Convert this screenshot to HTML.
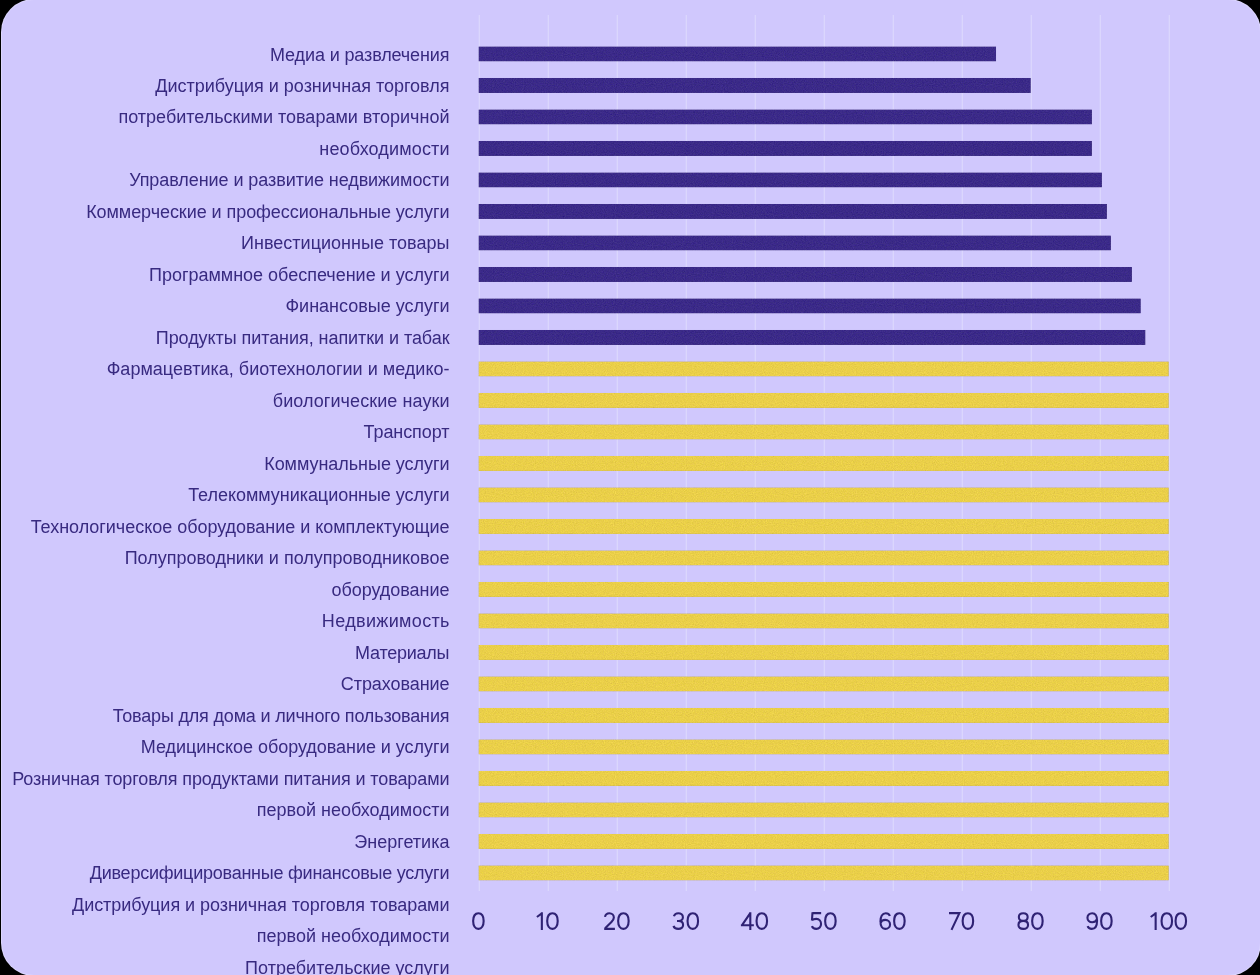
<!DOCTYPE html>
<html><head><meta charset="utf-8">
<style>
html,body{margin:0;padding:0;width:1260px;height:975px;overflow:hidden;background:#000;}
.halo{position:absolute;left:1px;top:-1px;width:1260px;height:977px;background:#dcd6fe;border-radius:33px;}
.card{position:absolute;left:2px;top:0;width:1258px;height:975px;background:#d0c8fd;border-radius:32px;}
svg{position:absolute;left:0;top:0;}
.l{position:absolute;right:0;white-space:nowrap;font-family:"Liberation Sans",sans-serif;font-size:18px;line-height:20px;color:#382a80;}
.ax{position:absolute;width:60px;text-align:center;font-family:"Liberation Sans",sans-serif;font-size:25px;letter-spacing:-0.6px;line-height:30px;color:#2f2274;}
</style></head><body>
<div class="halo"></div><div class="card"></div>
<svg width="1260" height="975" viewBox="0 0 1260 975">

<rect x="478.65" y="15" width="1.35" height="876" fill="#dbd6fd"/>
<rect x="547.65" y="15" width="1.35" height="876" fill="#dbd6fd"/>
<rect x="616.65" y="15" width="1.35" height="876" fill="#dbd6fd"/>
<rect x="685.65" y="15" width="1.35" height="876" fill="#dbd6fd"/>
<rect x="754.65" y="15" width="1.35" height="876" fill="#dbd6fd"/>
<rect x="823.65" y="15" width="1.35" height="876" fill="#dbd6fd"/>
<rect x="892.65" y="15" width="1.35" height="876" fill="#dbd6fd"/>
<rect x="961.65" y="15" width="1.35" height="876" fill="#dbd6fd"/>
<rect x="1030.65" y="15" width="1.35" height="876" fill="#dbd6fd"/>
<rect x="1099.65" y="15" width="1.35" height="876" fill="#dbd6fd"/>
<rect x="1168.65" y="15" width="1.35" height="876" fill="#dbd6fd"/>
<filter id="gr" x="0" y="0" width="100%" height="100%" color-interpolation-filters="sRGB"><feTurbulence type="fractalNoise" baseFrequency="0.9" numOctaves="2" seed="7"/><feColorMatrix type="matrix" values="0.6 0.4 0 0 0 0.4 0.6 0 0 0 0.6 0 0.4 0 0 0 0 0 0 1" result="t"/><feComposite in="SourceGraphic" in2="t" operator="arithmetic" k1="0" k2="1" k3="0.18" k4="-0.09" result="a"/><feComposite in="a" in2="SourceGraphic" operator="in"/></filter>
<g filter="url(#gr)">
<rect x="478.5" y="46.45" width="517.60" height="15.0" fill="#3b2a88"/>
<rect x="478.5" y="77.95" width="552.30" height="15.0" fill="#3b2a88"/>
<rect x="478.5" y="109.45" width="613.40" height="15.0" fill="#3b2a88"/>
<rect x="478.5" y="140.95" width="613.40" height="15.0" fill="#3b2a88"/>
<rect x="478.5" y="172.45" width="623.40" height="15.0" fill="#3b2a88"/>
<rect x="478.5" y="203.95" width="628.40" height="15.0" fill="#3b2a88"/>
<rect x="478.5" y="235.45" width="632.40" height="15.0" fill="#3b2a88"/>
<rect x="478.5" y="266.95" width="653.40" height="15.0" fill="#3b2a88"/>
<rect x="478.5" y="298.45" width="662.30" height="15.0" fill="#3b2a88"/>
<rect x="478.5" y="329.95" width="667.00" height="15.0" fill="#3b2a88"/>
<rect x="478.5" y="361.45" width="690.30" height="15.0" fill="#eacf49"/>
<rect x="478.5" y="392.95" width="690.30" height="15.0" fill="#eacf49"/>
<rect x="478.5" y="424.45" width="690.30" height="15.0" fill="#eacf49"/>
<rect x="478.5" y="455.95" width="690.30" height="15.0" fill="#eacf49"/>
<rect x="478.5" y="487.45" width="690.30" height="15.0" fill="#eacf49"/>
<rect x="478.5" y="518.95" width="690.30" height="15.0" fill="#eacf49"/>
<rect x="478.5" y="550.45" width="690.30" height="15.0" fill="#eacf49"/>
<rect x="478.5" y="581.95" width="690.30" height="15.0" fill="#eacf49"/>
<rect x="478.5" y="613.45" width="690.30" height="15.0" fill="#eacf49"/>
<rect x="478.5" y="644.95" width="690.30" height="15.0" fill="#eacf49"/>
<rect x="478.5" y="676.45" width="690.30" height="15.0" fill="#eacf49"/>
<rect x="478.5" y="707.95" width="690.30" height="15.0" fill="#eacf49"/>
<rect x="478.5" y="739.45" width="690.30" height="15.0" fill="#eacf49"/>
<rect x="478.5" y="770.95" width="690.30" height="15.0" fill="#eacf49"/>
<rect x="478.5" y="802.45" width="690.30" height="15.0" fill="#eacf49"/>
<rect x="478.5" y="833.95" width="690.30" height="15.0" fill="#eacf49"/>
<rect x="478.5" y="865.45" width="690.30" height="15.0" fill="#eacf49"/>
</g></svg>
<div style="position:absolute;left:0;top:0;width:449.5px;height:975px;will-change:transform;">
<div class="l" style="top:44.50px;letter-spacing:-0.122px;right:0.122px;">Медиа и развлечения</div>
<div class="l" style="top:75.99px;letter-spacing:-0.006px;right:0.006px;">Дистрибуция и розничная торговля</div>
<div class="l" style="top:107.48px;">потребительскими товарами вторичной</div>
<div class="l" style="top:138.97px;letter-spacing:0.150px;right:-0.150px;">необходимости</div>
<div class="l" style="top:170.46px;letter-spacing:-0.067px;right:0.067px;">Управление и развитие недвижимости</div>
<div class="l" style="top:201.95px;letter-spacing:-0.059px;right:0.059px;">Коммерческие и профессиональные услуги</div>
<div class="l" style="top:233.44px;letter-spacing:0.020px;right:-0.020px;">Инвестиционные товары</div>
<div class="l" style="top:264.93px;letter-spacing:-0.013px;right:0.013px;">Программное обеспечение и услуги</div>
<div class="l" style="top:296.42px;letter-spacing:-0.013px;right:0.013px;">Финансовые услуги</div>
<div class="l" style="top:327.91px;letter-spacing:-0.062px;right:0.062px;">Продукты питания, напитки и табак</div>
<div class="l" style="top:359.40px;letter-spacing:0.017px;right:-0.017px;">Фармацевтика, биотехнологии и медико-</div>
<div class="l" style="top:390.89px;letter-spacing:0.078px;right:-0.078px;">биологические науки</div>
<div class="l" style="top:422.38px;letter-spacing:-0.075px;right:0.075px;">Транспорт</div>
<div class="l" style="top:453.87px;letter-spacing:-0.044px;right:0.044px;">Коммунальные услуги</div>
<div class="l" style="top:485.36px;letter-spacing:-0.038px;right:0.038px;">Телекоммуникационные услуги</div>
<div class="l" style="top:516.85px;letter-spacing:-0.028px;right:0.028px;">Технологическое оборудование и комплектующие</div>
<div class="l" style="top:548.34px;">Полупроводники и полупроводниковое</div>
<div class="l" style="top:579.83px;letter-spacing:-0.036px;right:0.036px;">оборудование</div>
<div class="l" style="top:611.32px;letter-spacing:0.345px;right:-0.345px;">Недвижимость</div>
<div class="l" style="top:642.81px;letter-spacing:-0.250px;right:0.250px;">Материалы</div>
<div class="l" style="top:674.30px;letter-spacing:-0.080px;right:0.080px;">Страхование</div>
<div class="l" style="top:705.79px;letter-spacing:-0.178px;right:0.178px;">Товары для дома и личного пользования</div>
<div class="l" style="top:737.28px;letter-spacing:-0.044px;right:0.044px;">Медицинское оборудование и услуги</div>
<div class="l" style="top:768.77px;letter-spacing:-0.098px;right:0.098px;">Розничная торговля продуктами питания и товарами</div>
<div class="l" style="top:800.26px;letter-spacing:0.011px;right:-0.011px;">первой необходимости</div>
<div class="l" style="top:831.75px;letter-spacing:0.022px;right:-0.022px;">Энергетика</div>
<div class="l" style="top:863.24px;letter-spacing:-0.244px;right:0.244px;">Диверсифицированные финансовые услуги</div>
<div class="l" style="top:894.73px;letter-spacing:-0.045px;right:0.045px;">Дистрибуция и розничная торговля товарами</div>
<div class="l" style="top:926.22px;letter-spacing:0.011px;right:-0.011px;">первой необходимости</div>
<div class="l" style="top:957.71px;letter-spacing:0.010px;right:-0.010px;">Потребительские услуги</div>
</div>
<svg width="1260" height="975" viewBox="0 0 1260 975"><g fill="none" stroke="#2f2274" stroke-width="2.1" stroke-linecap="butt" stroke-linejoin="miter">
<path transform="translate(472.10 929.9)" d="M6.30 -16.65C9.55 -16.65 11.55 -13.69 11.55 -8.85C11.55 -4.01 9.55 -1.05 6.30 -1.05C3.04 -1.05 1.05 -4.01 1.05 -8.85C1.05 -13.69 3.04 -16.65 6.30 -16.65Z"/>
<path transform="translate(536.00 929.9)" d="M5.85 0L5.85 -17.7M0.9 -12.9L5.85 -16.5"/>
<path transform="translate(546.15 929.9)" d="M6.30 -16.65C9.55 -16.65 11.55 -13.69 11.55 -8.85C11.55 -4.01 9.55 -1.05 6.30 -1.05C3.04 -1.05 1.05 -4.01 1.05 -8.85C1.05 -13.69 3.04 -16.65 6.30 -16.65Z"/>
<path transform="translate(603.85 929.9)" d="M1.15 -13.0C1.6 -15.4 3.3 -16.65 5.5 -16.65C8.2 -16.65 10.0 -14.8 10.0 -12.4C10.0 -10.6 9.1 -9.3 7.6 -7.8L1.3 -1.6M0.35 -1.05L11.05 -1.05"/>
<path transform="translate(617.10 929.9)" d="M6.30 -16.65C9.55 -16.65 11.55 -13.69 11.55 -8.85C11.55 -4.01 9.55 -1.05 6.30 -1.05C3.04 -1.05 1.05 -4.01 1.05 -8.85C1.05 -13.69 3.04 -16.65 6.30 -16.65Z"/>
<path transform="translate(672.70 929.9)" d="M1.2 -13.6C1.8 -15.6 3.5 -16.65 5.6 -16.65C8.3 -16.65 10.2 -14.9 10.2 -12.7C10.2 -10.4 8.4 -8.9 6.0 -8.9L4.3 -8.9M6.0 -8.9C8.7 -8.9 10.4 -7.2 10.4 -4.9C10.4 -2.5 8.4 -1.05 5.6 -1.05C3.2 -1.05 1.3 -2.2 0.8 -4.0"/>
<path transform="translate(686.50 929.9)" d="M6.30 -16.65C9.55 -16.65 11.55 -13.69 11.55 -8.85C11.55 -4.01 9.55 -1.05 6.30 -1.05C3.04 -1.05 1.05 -4.01 1.05 -8.85C1.05 -13.69 3.04 -16.65 6.30 -16.65Z"/>
<path transform="translate(740.90 929.9)" d="M9.4 0L9.4 -17.7M9.7 -17.2L1.5 -5.2M0 -4.6L12.95 -4.6"/>
<path transform="translate(755.50 929.9)" d="M6.30 -16.65C9.55 -16.65 11.55 -13.69 11.55 -8.85C11.55 -4.01 9.55 -1.05 6.30 -1.05C3.04 -1.05 1.05 -4.01 1.05 -8.85C1.05 -13.69 3.04 -16.65 6.30 -16.65Z"/>
<path transform="translate(811.00 929.9)" d="M10.15 -16.75L1.5 -16.75M1.5 -17.7L0.95 -9.4M0.9 -9.6C2.0 -10.6 3.6 -11.0 5.3 -11.0C8.3 -11.0 10.05 -8.7 10.05 -5.9C10.05 -3.0 8.1 -1.05 5.3 -1.05C3.2 -1.05 1.5 -2.1 0.9 -3.8"/>
<path transform="translate(824.10 929.9)" d="M6.30 -16.65C9.55 -16.65 11.55 -13.69 11.55 -8.85C11.55 -4.01 9.55 -1.05 6.30 -1.05C3.04 -1.05 1.05 -4.01 1.05 -8.85C1.05 -13.69 3.04 -16.65 6.30 -16.65Z"/>
<path transform="translate(879.40 929.9)" d="M10.5 -13.9C9.9 -15.6 8.4 -16.65 6.3 -16.65C2.9 -16.65 1.05 -13.4 1.05 -8.5C1.05 -3.8 2.9 -1.05 5.85 -1.05C8.7 -1.05 10.65 -3.0 10.65 -5.5C10.65 -8.1 8.7 -10.0 5.9 -10.0C3.6 -10.0 1.7 -8.7 1.1 -6.8"/>
<path transform="translate(893.10 929.9)" d="M6.30 -16.65C9.55 -16.65 11.55 -13.69 11.55 -8.85C11.55 -4.01 9.55 -1.05 6.30 -1.05C3.04 -1.05 1.05 -4.01 1.05 -8.85C1.05 -13.69 3.04 -16.65 6.30 -16.65Z"/>
<path transform="translate(949.00 929.9)" d="M0 -16.75L10.4 -16.75L2.5 0"/>
<path transform="translate(961.60 929.9)" d="M6.30 -16.65C9.55 -16.65 11.55 -13.69 11.55 -8.85C11.55 -4.01 9.55 -1.05 6.30 -1.05C3.04 -1.05 1.05 -4.01 1.05 -8.85C1.05 -13.69 3.04 -16.65 6.30 -16.65Z"/>
<path transform="translate(1017.40 929.9)" d="M5.85 -16.70C8.58 -16.70 10.25 -15.22 10.25 -12.80C10.25 -10.38 8.58 -8.90 5.85 -8.90C3.12 -8.90 1.45 -10.38 1.45 -12.80C1.45 -15.22 3.12 -16.70 5.85 -16.70ZM5.85 -9.00C8.83 -9.00 10.65 -7.48 10.65 -5.00C10.65 -2.52 8.83 -1.00 5.85 -1.00C2.87 -1.00 1.05 -2.52 1.05 -5.00C1.05 -7.48 2.87 -9.00 5.85 -9.00Z"/>
<path transform="translate(1031.10 929.9)" d="M6.30 -16.65C9.55 -16.65 11.55 -13.69 11.55 -8.85C11.55 -4.01 9.55 -1.05 6.30 -1.05C3.04 -1.05 1.05 -4.01 1.05 -8.85C1.05 -13.69 3.04 -16.65 6.30 -16.65Z"/>
<path transform="translate(1086.40 929.9)" d="M1.2 -3.8C1.8 -2.1 3.3 -1.05 5.4 -1.05C8.8 -1.05 10.65 -4.3 10.65 -9.2C10.65 -13.9 8.8 -16.65 5.85 -16.65C3.0 -16.65 1.05 -14.7 1.05 -12.2C1.05 -9.6 3.0 -7.7 5.8 -7.7C8.1 -7.7 10.0 -9.0 10.6 -10.9"/>
<path transform="translate(1100.10 929.9)" d="M6.30 -16.65C9.55 -16.65 11.55 -13.69 11.55 -8.85C11.55 -4.01 9.55 -1.05 6.30 -1.05C3.04 -1.05 1.05 -4.01 1.05 -8.85C1.05 -13.69 3.04 -16.65 6.30 -16.65Z"/>
<path transform="translate(1149.80 929.9)" d="M5.85 0L5.85 -17.7M0.9 -12.9L5.85 -16.5"/>
<path transform="translate(1160.50 929.9)" d="M6.30 -16.65C9.55 -16.65 11.55 -13.69 11.55 -8.85C11.55 -4.01 9.55 -1.05 6.30 -1.05C3.04 -1.05 1.05 -4.01 1.05 -8.85C1.05 -13.69 3.04 -16.65 6.30 -16.65Z"/>
<path transform="translate(1174.50 929.9)" d="M6.30 -16.65C9.55 -16.65 11.55 -13.69 11.55 -8.85C11.55 -4.01 9.55 -1.05 6.30 -1.05C3.04 -1.05 1.05 -4.01 1.05 -8.85C1.05 -13.69 3.04 -16.65 6.30 -16.65Z"/>
</g></svg>
</body></html>
